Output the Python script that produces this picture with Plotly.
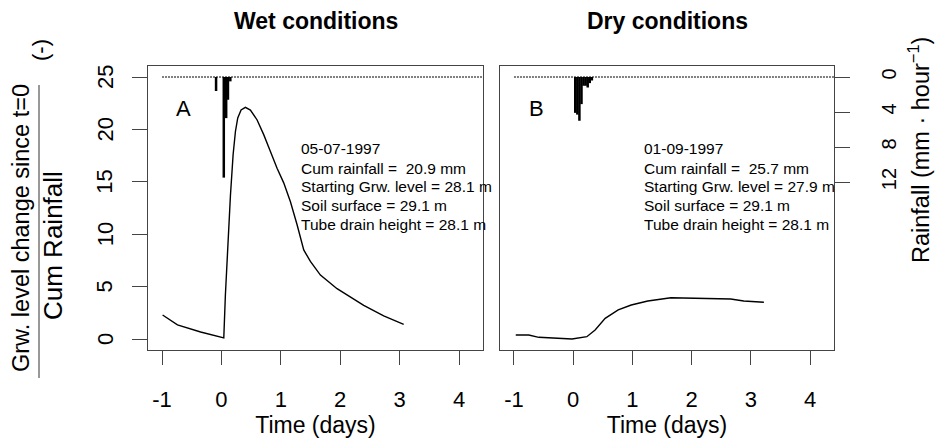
import plotly.graph_objects as go

# ---- data -------------------------------------------------------------
# groundwater rise normalised by cumulative rainfall, wet event (05-07-1997)
time_wet = [-0.99, -0.74, -0.35, 0.02, 0.04, 0.067, 0.107, 0.152, 0.197, 0.236,
            0.275, 0.331, 0.404, 0.488, 0.601, 0.712, 0.825, 0.937, 1.049, 1.162,
            1.274, 1.386, 1.498, 1.667, 1.947, 2.172, 2.396, 2.732, 3.069]
rise_wet = [2.29, 1.34, 0.67, 0.10, 0.10, 4.2, 9.0, 13.7, 17.6, 19.8,
            21.1, 21.85, 22.1, 21.85, 20.9, 19.5, 17.9, 16.3, 14.9, 13.1,
            10.9, 8.5, 7.4, 6.1, 4.8, 4.0, 3.2, 2.2, 1.4]

# dry event (01-09-1997)
time_dry = [-0.97, -0.75, -0.58, -0.25, -0.02, 0.23, 0.37, 0.54, 0.76, 0.98, 1.26,
            1.65, 1.99, 2.33, 2.66, 2.88, 3.22]
rise_dry = [0.38, 0.38, 0.16, 0.06, 0.0, 0.22, 0.86, 1.97, 2.77, 3.24, 3.63,
            3.94, 3.88, 3.88, 3.82, 3.63, 3.5]

# hourly rainfall intensity (mm/hour)
rain_time_wet = [-0.09, 0.04, 0.08, 0.11, 0.15]
rain_wet = [1.6, 11.5, 4.7, 2.6, 0.5]
rain_time_dry = [0.035, 0.07, 0.105, 0.14, 0.175, 0.21, 0.245, 0.28, 0.315]
rain_dry = [4.1, 4.3, 5.0, 3.1, 1.0, 1.0, 1.2, 0.7, 0.4]

# zero-rain reference line
baseline_time = [-1.0, 4.6]
baseline_rain = [0.0, 0.0]

x_ticks = [-1, 0, 1, 2, 3, 4]
y_ticks = [0, 5, 10, 15, 20, 25]
rain_ticks = [0, 4, 8, 12]

info_wet = ["05-07-1997", "Cum rainfall = \u00a020.9 mm", "Starting Grw. level = 28.1 m",
            "Soil surface = 29.1 m", "Tube drain height = 28.1 m"]
info_dry = ["01-09-1997", "Cum rainfall = \u00a025.7 mm", "Starting Grw. level = 27.9 m",
            "Soil surface = 29.1 m", "Tube drain height = 28.1 m"]

# ---- layout helpers ---------------------------------------------------
W, H = 936, 443
FONT = "Liberation Sans, Arial, sans-serif"


def px(x):
    return x / W


def py(y):
    return 1 - y / H


def stems(ts, vs):
    xs, ys = [], []
    for t, v in zip(ts, vs):
        xs += [t, t, None]
        ys += [0, v, None]
    return xs, ys


fig = go.Figure()

line_style = dict(color="black", width=1.4)
fig.add_trace(go.Scatter(x=time_wet, y=rise_wet, mode="lines", line=line_style,
                         xaxis="x", yaxis="y", showlegend=False))
fig.add_trace(go.Scatter(x=time_dry, y=rise_dry, mode="lines", line=line_style,
                         xaxis="x2", yaxis="y2", showlegend=False))

for xa, ya, ts, vs in [("x", "y3", rain_time_wet, rain_wet),
                       ("x2", "y4", rain_time_dry, rain_dry)]:
    fig.add_trace(go.Scatter(x=baseline_time, y=baseline_rain, mode="lines",
                             line=dict(color="black", width=1, dash="2px,1px"),
                             xaxis=xa, yaxis=ya, showlegend=False))
    sx, sy = stems(ts, vs)
    fig.add_trace(go.Scatter(x=sx, y=sy, mode="lines",
                             line=dict(color="black", width=2.5),
                             xaxis=xa, yaxis=ya, showlegend=False))

x_range = [-1.236, 4.404]
y_range = [-1.05, 26.05]
rain_range = [31.2, -1.257]
dom_a = [px(148), px(483)]
dom_b = [px(500), px(834)]
dom_y = [py(350), py(66)]

box = dict(showline=True, linecolor="#444", linewidth=1, mirror=True,
           showgrid=False, zeroline=False)
xcommon = dict(range=x_range, tickmode="array", tickvals=x_ticks,
               ticktext=[str(v) for v in x_ticks], ticks="outside", ticklen=14,
               tickcolor="#444", tickwidth=1,
               tickfont=dict(family=FONT, size=22, color="black"),
               ticklabelstandoff=16,
               title=dict(text="Time (days)", font=dict(family=FONT, size=23, color="black"),
                          standoff=2),
               **box)

fig.update_layout(
    width=W, height=H,
    margin=dict(l=0, r=0, t=0, b=0),
    paper_bgcolor="white", plot_bgcolor="white",
    xaxis=dict(domain=dom_a, anchor="y", **xcommon),
    xaxis2=dict(domain=dom_b, anchor="y2", **xcommon),
    yaxis=dict(domain=dom_y, anchor="x", range=y_range, tickmode="array",
               tickvals=y_ticks, ticks="outside", ticklen=15, tickcolor="#444",
               tickwidth=1, showticklabels=False, **box),
    yaxis2=dict(domain=dom_y, anchor="x2", range=y_range, showticklabels=False,
                ticks="", **box),
    yaxis3=dict(overlaying="y", anchor="x", range=rain_range, visible=False),
    yaxis4=dict(overlaying="y2", anchor="x2", side="right", range=rain_range,
                tickmode="array", tickvals=rain_ticks,
                ticktext=[str(v) for v in rain_ticks], ticks="outside", ticklen=15,
                tickcolor="#444", tickwidth=1, tickangle=-90,
                tickfont=dict(family=FONT, size=20, color="black"),
                ticklabelstandoff=22, showgrid=False, zeroline=False, showline=False),
)

ann = []
# left-axis tick labels, set upright along the axis
for v in y_ticks:
    ann.append(dict(x=px(105), y=v, yref="y", text=str(v), textangle=-90,
                    font=dict(family=FONT, size=22, color="black")))

title_font = dict(family=FONT, size=23, color="black")
ann.append(dict(x=px(315.5), y=py(21), text="<b>Wet conditions</b>", font=title_font))
ann.append(dict(x=px(667), y=py(21), text="<b>Dry conditions</b>", font=title_font))
ann.append(dict(x=px(183), y=py(108), text="A", font=dict(family=FONT, size=22, color="black")))
ann.append(dict(x=px(536), y=py(108), text="B", font=dict(family=FONT, size=22, color="black")))

row_y = [148, 168, 187, 206, 224]
for x0, lines in [(299, info_wet), (642, info_dry)]:
    for yy, t in zip(row_y, lines):
        ann.append(dict(x=px(x0), y=py(yy), text=t, xanchor="left",
                        font=dict(family=FONT, size=15.5, color="black")))

ann.append(dict(x=px(21), y=py(228), text="Grw. level change since t=0",
                textangle=-90, font=dict(family=FONT, size=23.5, color="black")))
ann.append(dict(x=px(53), y=py(246), text="Cum Rainfall", textangle=-90,
                font=dict(family=FONT, size=26, color="black")))
ann.append(dict(x=px(41), y=py(50), text="(-)", textangle=-90,
                font=dict(family=FONT, size=22, color="black")))
ann.append(dict(x=px(919), y=py(150), text="Rainfall (mm \u00b7 hour<sup>\u22121</sup>)",
                textangle=-90, font=dict(family=FONT, size=23.5, color="black")))

for a in ann:
    a.setdefault("xanchor", "center")
    a.setdefault("yref", "paper")
    a.update(xref="paper", yanchor="middle", showarrow=False)
fig.update_layout(annotations=ann)

# fraction bar of the left axis label
fig.add_shape(type="line", xref="paper", yref="paper",
              x0=px(39), x1=px(39), y0=py(85), y1=py(378),
              line=dict(color="#333", width=1))

fig.write_html("out.html")
